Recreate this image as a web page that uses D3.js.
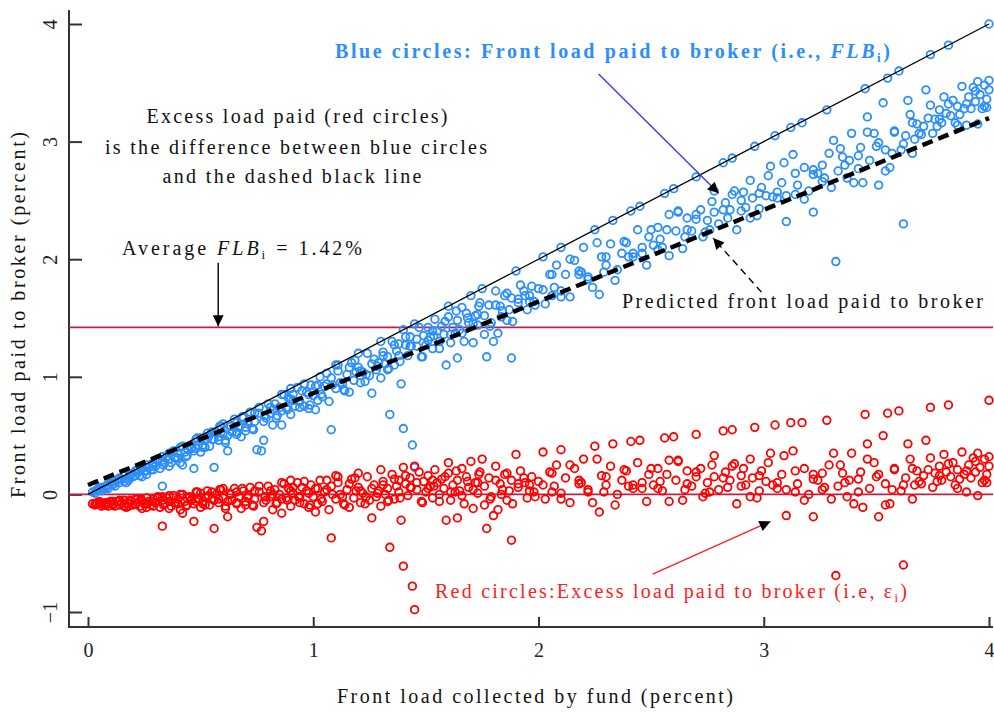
<!DOCTYPE html>
<html>
<head>
<meta charset="utf-8">
<script src="https://cdn.jsdelivr.net/npm/d3@7"></script>
<style>
  body { margin: 0; background: #fff; }
  svg { display: block; }
  text { font-family: "Liberation Serif", "Times New Roman", serif; }
</style>
</head>
<body>
<script>
const width = 994;
const height = 712;

// front load collected by fund (percent), one entry per fund
const fundX = [
  0.02,0.03,0.04,0.05,0.06,0.07,0.08,0.09,0.10,0.11,
  0.12,0.13,0.14,0.15,0.16,0.17,0.18,0.19,0.20,0.21,
  0.22,0.23,0.24,0.24,0.25,0.26,0.27,0.28,0.29,0.30,
  0.31,0.32,0.33,0.33,0.34,0.35,0.36,0.37,0.38,0.39,
  0.40,0.41,0.42,0.42,0.43,0.44,0.45,0.46,0.47,0.47,
  0.48,0.49,0.50,0.50,0.51,0.52,0.53,0.54,0.55,0.56,
  0.57,0.58,0.59,0.60,0.61,0.62,0.63,0.64,0.65,0.66,
  0.67,0.68,0.69,0.70,0.71,0.72,0.73,0.74,0.75,0.76,
  0.77,0.78,0.79,0.80,0.81,0.82,0.83,0.84,0.85,0.86,
  0.87,0.88,0.89,0.90,0.91,0.92,0.93,0.94,0.95,0.96,
  0.97,0.98,0.99,1.00,1.01,1.02,1.03,1.04,1.05,1.07,
  1.08,1.08,1.10,1.11,1.12,1.14,1.15,1.16,1.17,1.18,
  1.20,1.21,1.22,1.24,1.25,1.26,1.27,1.28,1.29,1.30,
  1.31,1.32,1.33,1.34,1.35,1.36,1.37,1.38,1.39,1.40,
  1.40,1.41,1.42,1.43,1.44,1.45,1.45,1.46,1.47,1.48,
  1.49,1.50,1.51,1.52,1.53,1.54,1.55,1.56,1.57,1.58,
  1.59,1.60,1.61,1.62,1.64,1.64,1.65,1.66,1.67,1.68,
  1.69,1.70,1.71,1.72,1.73,1.74,1.75,1.76,1.77,1.78,
  1.79,1.80,1.81,1.82,1.83,1.84,1.85,1.86,1.88,1.88,
  1.90,1.91,1.92,1.94,1.95,1.97,1.98,2.00,2.02,2.03,
  2.05,2.07,2.08,2.10,2.12,2.14,2.16,2.18,2.20,2.22,
  2.24,2.25,2.27,2.28,2.30,2.32,2.33,2.35,2.37,2.39,
  2.41,2.42,2.44,2.46,2.48,2.49,2.51,2.53,2.55,2.56,
  2.57,2.58,2.60,2.61,2.62,2.64,2.66,2.68,2.70,2.72,
  2.73,2.75,2.77,2.78,2.80,2.82,2.83,2.85,2.86,2.87,
  2.88,2.90,2.91,2.92,2.94,2.95,2.96,2.97,2.99,3.01,
  3.03,3.05,3.06,3.08,3.09,3.10,3.12,3.13,3.15,3.17,
  3.18,3.20,3.22,3.22,3.24,3.26,3.28,3.29,3.31,3.32,
  3.33,3.35,3.37,3.39,3.40,3.42,3.43,3.44,3.45,3.46,
  3.47,3.49,3.51,3.51,3.53,3.54,3.55,3.56,3.58,3.60,
  3.61,3.62,3.63,3.64,3.65,3.66,3.68,3.69,3.71,3.72,
  3.73,3.74,3.75,3.76,3.78,3.79,3.80,3.81,3.82,3.83,
  3.84,3.85,3.86,3.88,3.89,3.90,3.91,3.92,3.93,3.94,
  3.95,3.95,3.96,3.97,3.98,3.99,3.99,4.00,4.00,4.00,
  0.60,0.90,1.10,1.20,1.30,1.60,2.10,2.45,2.70,0.05,
  0.08,0.11,0.14,0.18,0.22,0.26,0.29,0.33,0.36,0.40,
  0.44,0.48,0.52,0.55,0.58,0.62,0.66,0.70,0.74,0.78,
  0.82,0.86,0.90,0.94,0.98,1.02,1.06,1.13,1.19,1.23,
  1.33,1.38,1.43,1.53,1.63,1.73,1.87,1.96,2.06,2.19,
  2.29,2.40,2.53,2.65,2.76,2.84,2.98,3.04,3.14,3.27,
  3.36,3.57,3.67,3.77,3.87
];

// blue circles: front load paid to broker (FLB_i)
const blueY = [
  0.02,0.01,0.04,0.04,0.06,0.05,0.07,0.05,0.10,0.09,
  0.07,0.12,0.10,0.13,0.16,0.10,0.14,0.17,0.15,0.20,
  0.18,0.16,0.22,0.15,0.20,0.25,0.23,0.21,0.27,0.24,
  0.30,0.22,0.07,0.29,0.27,0.32,0.30,0.27,0.37,0.31,
  0.35,0.27,0.41,0.25,0.36,0.33,0.41,0.39,0.22,0.37,
  0.47,0.42,0.36,0.48,0.42,0.47,0.52,0.41,0.47,0.23,
  0.53,0.46,0.58,0.52,0.46,0.37,0.58,0.53,0.64,0.51,
  0.58,0.49,0.65,0.57,0.62,0.70,0.56,0.62,0.38,0.69,
  0.37,0.46,0.65,0.77,0.69,0.59,0.77,0.67,0.74,0.59,
  0.85,0.74,0.82,0.68,0.80,0.75,0.91,0.79,0.88,0.75,
  0.87,0.73,0.93,0.84,0.72,0.93,1.00,0.83,0.92,0.79,
  0.55,0.99,0.90,1.05,0.95,0.88,1.02,0.87,1.12,0.97,
  1.08,0.95,1.04,1.20,1.01,0.86,1.15,1.06,1.12,0.99,
  1.21,1.11,1.17,0.68,1.30,1.10,1.22,1.18,0.94,0.56,
  1.40,1.27,1.18,1.34,0.42,0.23,1.45,1.26,1.42,1.17,
  1.35,1.27,1.42,1.34,1.24,1.49,1.39,1.30,1.43,1.36,
  1.10,1.51,1.29,1.42,1.16,1.48,1.40,1.59,1.30,1.54,
  1.46,1.69,1.29,1.52,1.44,1.63,1.75,1.52,1.17,1.61,
  1.46,1.30,1.73,1.37,1.60,1.56,1.69,1.48,1.16,1.67,
  1.90,1.63,1.78,1.69,1.57,1.77,1.64,1.75,2.02,1.62,
  1.87,1.76,1.95,1.73,1.87,1.68,1.99,1.87,2.10,1.85,
  1.76,2.25,1.70,2.02,1.95,2.13,2.33,1.91,2.05,2.14,
  2.41,2.02,2.25,2.10,1.95,2.19,2.12,2.27,2.10,2.56,
  2.25,2.38,2.60,2.24,2.41,2.09,2.35,2.24,2.34,2.42,
  2.19,2.33,2.49,2.40,2.30,2.82,2.48,2.42,2.86,2.58,
  2.25,2.50,2.57,2.44,2.67,2.52,2.96,2.37,2.61,2.54,
  2.79,3.05,2.52,2.65,2.82,2.32,3.12,2.89,2.63,3.16,
  2.78,2.58,2.40,2.76,2.73,2.66,3.27,2.90,3.01,1.98,
  2.75,2.87,2.69,3.07,2.65,2.88,2.95,2.65,3.45,3.21,
  2.84,3.07,2.63,2.99,3.33,2.93,3.54,2.78,3.09,3.60,
  2.93,2.30,3.05,3.35,3.23,2.90,3.15,3.07,3.13,3.44,
  3.20,3.74,3.07,3.19,3.27,3.16,3.38,3.24,3.82,3.22,
  3.35,3.16,3.30,3.47,3.28,3.14,3.38,3.28,3.46,3.34,
  3.51,3.15,3.40,3.28,3.48,3.36,3.29,4.00,3.52,3.44,
  0.60,0.90,1.10,1.20,1.30,1.60,2.10,2.45,2.70,0.06,
  0.05,0.11,0.14,0.12,0.21,0.20,0.21,0.32,0.24,0.31,
  0.39,0.39,0.40,0.53,0.49,0.50,0.61,0.54,0.69,0.62,
  0.72,0.71,0.81,0.74,0.85,0.80,0.94,0.94,1.04,0.96,
  1.06,1.28,1.26,1.39,1.37,1.53,1.57,1.69,1.69,1.89,
  1.89,2.02,2.08,2.19,2.25,2.35,2.43,2.53,2.55,2.69,
  2.80,2.90,3.02,3.13,3.23
];

// red circles: excess load paid to broker (epsilon_i)
const redY = [
  -0.08,-0.09,-0.07,-0.08,-0.07,-0.09,-0.07,-0.10,-0.06,-0.08,
  -0.10,-0.06,-0.09,-0.07,-0.05,-0.11,-0.08,-0.06,-0.09,-0.04,
  -0.07,-0.10,-0.05,-0.12,-0.08,-0.03,-0.06,-0.09,-0.04,-0.07,
  -0.02,-0.11,-0.27,-0.05,-0.08,-0.03,-0.06,-0.10,-0.01,-0.07,
  -0.04,-0.13,0.00,-0.16,-0.06,-0.09,-0.02,-0.05,-0.23,-0.08,
  0.02,-0.04,-0.11,0.01,-0.06,-0.02,0.03,-0.09,-0.04,-0.29,
  0.00,-0.07,0.04,-0.03,-0.10,-0.19,0.01,-0.05,0.05,-0.08,
  -0.02,-0.12,0.03,-0.06,-0.01,0.06,-0.09,-0.04,-0.28,0.02,
  -0.31,-0.23,-0.05,0.07,-0.02,-0.13,0.04,-0.07,0.00,-0.16,
  0.09,-0.03,0.05,-0.10,0.01,-0.05,0.10,-0.02,0.06,-0.08,
  0.03,-0.11,0.08,-0.02,-0.15,0.05,0.12,-0.06,0.02,-0.13,
  -0.37,0.07,-0.04,0.10,0.00,-0.09,0.04,-0.11,0.13,-0.03,
  0.06,-0.07,0.01,0.15,-0.05,-0.20,0.08,-0.02,0.03,-0.10,
  0.11,0.00,0.05,-0.45,0.17,-0.04,0.07,0.02,-0.22,-0.61,
  0.23,0.09,-0.01,0.14,-0.78,-0.98,0.24,0.04,0.19,-0.06,
  0.11,0.02,0.16,0.07,-0.03,0.21,0.10,0.00,0.13,0.05,
  -0.22,0.18,-0.05,0.08,-0.20,0.12,0.03,0.22,-0.08,0.15,
  0.06,0.28,-0.12,0.10,0.01,0.19,0.30,0.07,-0.29,0.14,
  -0.02,-0.18,0.24,-0.13,0.09,0.04,0.17,-0.05,-0.39,0.12,
  0.34,0.06,0.20,0.10,-0.03,0.15,0.02,0.11,0.36,-0.04,
  0.19,0.07,0.25,0.01,0.14,-0.07,0.22,0.09,0.30,0.04,
  -0.07,0.41,-0.15,0.16,0.08,0.24,0.43,0.00,0.12,0.20,
  0.45,0.05,0.27,0.10,-0.06,0.17,0.08,0.22,0.03,0.48,
  0.17,0.29,0.49,0.12,0.29,-0.05,0.20,0.07,0.15,0.22,
  -0.02,0.10,0.25,0.15,0.04,0.54,0.19,0.12,0.55,0.26,
  -0.08,0.16,0.22,0.08,0.30,0.14,0.57,-0.03,0.20,0.11,
  0.35,0.59,0.05,0.17,0.33,-0.18,0.61,0.37,0.09,0.61,
  0.22,0.00,-0.19,0.17,0.12,0.04,0.63,0.25,0.35,-0.69,
  0.07,0.18,-0.02,0.35,-0.08,0.13,0.19,-0.11,0.68,0.43,
  0.05,0.27,-0.19,0.17,0.50,0.09,0.69,-0.08,0.22,0.71,
  0.03,-0.60,0.14,0.43,0.30,-0.04,0.20,0.11,0.16,0.46,
  0.21,0.74,0.06,0.18,0.24,0.12,0.34,0.19,0.76,0.15,
  0.27,0.08,0.21,0.36,0.17,0.02,0.25,0.14,0.31,0.19,
  0.35,-0.01,0.23,0.10,0.30,0.17,0.10,0.80,0.32,0.24,
  0.05,0.12,0.16,0.18,0.21,0.27,0.38,0.46,0.51,-0.06,
  -0.09,-0.06,-0.05,-0.10,-0.04,-0.08,-0.10,-0.02,-0.12,-0.08,
  -0.03,-0.06,-0.09,0.02,-0.04,-0.06,0.02,-0.09,0.03,-0.07,
  0.00,-0.04,0.03,-0.07,0.01,-0.08,0.04,-0.02,0.03,-0.08,
  -0.06,0.12,0.06,0.12,0.02,0.10,0.03,0.08,0.02,0.10,
  0.02,0.07,0.05,0.04,0.02,0.06,0.03,0.08,0.02,0.06,
  0.10,0.04,0.08,0.11,0.13
];

// second batch of funds read from the dense part of the cloud
const fundX2 = [
  0.035,0.06,0.085,0.11,0.135,0.16,0.185,0.21,0.235,0.26,
  0.285,0.31,0.335,0.36,0.385,0.41,0.435,0.46,0.485,0.51,
  0.535,0.56,0.585,0.61,0.635,0.66,0.685,0.71,0.735,0.76,
  0.785,0.81,0.835,0.86,0.885,0.91,0.935,0.96,0.985,1.01,
  1.035,1.06,1.085,1.11,1.135,1.16,1.185,1.21,1.235,1.26,
  1.285,1.31,1.335,1.36,1.385,1.41,1.435,1.46,1.485,1.51,
  1.535,1.56,1.585,1.61,1.635,1.66,1.685,1.71,1.735,1.76,
  1.785,1.81,1.835,1.86,1.885,1.91,1.935,1.96,1.985,2.02,
  2.06,2.10,2.14,2.18,2.22,2.26,2.30,2.34,2.38,2.42,
  2.46,2.50,2.54,2.58,2.62,2.66,2.70,2.74,2.78,2.82,
  2.86,2.90,2.94,2.98,3.02,3.06,3.10,3.14,3.18,3.22,
  3.26,3.30,3.34,3.38,3.42,3.46,3.50,3.54,3.58,3.62,
  3.66,3.70,3.74,3.78,3.82,3.86,3.90,3.94,3.98
];
const blueY2 = [
  0.03,0.03,0.08,0.08,0.13,0.11,0.17,0.16,0.22,0.17,
  0.24,0.29,0.25,0.35,0.31,0.40,0.32,0.40,0.48,0.40,
  0.49,0.47,0.58,0.44,0.58,0.53,0.66,0.60,0.55,0.74,
  0.67,0.74,0.65,0.85,0.72,0.85,0.79,0.94,0.76,0.92,
  0.85,1.03,0.93,1.10,0.89,1.08,1.14,1.05,1.02,1.11,
  1.09,1.18,1.07,1.27,1.13,1.34,1.26,1.32,1.17,1.31,
  1.35,1.24,1.47,1.36,1.56,1.37,1.50,1.45,1.60,1.36,
  1.43,1.61,1.51,1.71,1.47,1.66,1.73,1.64,1.61,1.74,
  1.87,1.68,2.00,1.90,1.83,2.14,2.02,1.82,2.15,2.05,
  2.05,2.25,2.17,2.03,2.40,2.25,2.38,2.23,2.58,2.42,
  2.55,2.41,2.35,2.56,2.71,2.57,2.54,2.73,2.51,2.72,
  2.80,2.61,2.94,2.84,2.77,3.08,2.96,2.75,3.08,2.98,
  3.16,3.06,3.31,3.19,3.32,3.14,3.32,3.43,3.30
];
const redY2 = [
  -0.08,-0.10,-0.07,-0.09,-0.06,-0.10,-0.05,-0.08,-0.04,-0.11,
  -0.06,-0.03,-0.09,-0.01,-0.07,0.00,-0.10,-0.04,0.02,-0.08,
  -0.01,-0.05,0.04,-0.12,0.00,-0.07,0.05,-0.03,-0.10,0.07,
  -0.02,0.03,-0.08,0.10,-0.05,0.06,-0.02,0.11,-0.09,0.05,
  -0.04,0.12,0.00,0.15,-0.08,0.09,0.14,0.03,-0.02,0.05,
  0.01,0.08,-0.05,0.13,-0.03,0.16,0.06,0.10,-0.07,0.05,
  0.07,-0.06,0.15,0.02,0.20,-0.01,0.11,0.04,0.17,-0.09,
  -0.04,0.12,0.00,0.18,-0.08,0.09,0.14,0.03,-0.02,0.08,
  0.18,-0.04,0.25,0.12,0.02,0.30,0.15,-0.09,0.21,0.08,
  0.05,0.22,0.11,-0.06,0.28,0.09,0.19,0.01,0.33,0.14,
  0.24,0.07,-0.02,0.16,0.27,0.10,0.04,0.20,-0.05,0.13,
  0.18,-0.04,0.25,0.12,0.02,0.30,0.15,-0.09,0.21,0.08,
  0.22,0.09,0.31,0.16,0.26,0.05,0.20,0.28,0.12
];

// 45 degree line (broker gets the whole load) and predicted front load
const fullX = [0, 4];
const fullY = [0, 4];
const predX = [0, 1, 2, 3, 4];
const predY = [0.08, 0.86, 1.64, 2.42, 3.2];
const avgFLB = 1.42;

const xTicks = [0, 1, 2, 3, 4];
const yTicks = [-1, 0, 1, 2, 3, 4];

const blue = '#2b8efc';
const red = '#ff0000';
const crimson = '#c21f45';

const x = d3.scaleLinear().domain([0, 4]).range([88, 989]);
const y = d3.scaleLinear().domain([-1, 4]).range([612, 24]);

const svg = d3.select('body').append('svg').attr('width', width).attr('height', height);
svg.append('rect').attr('width', width).attr('height', height).attr('fill', '#fff');

const defs = svg.append('defs');
defs.append('marker')
  .attr('id', 'head')
  .attr('viewBox', '0 0 10 10')
  .attr('refX', 10).attr('refY', 5)
  .attr('markerWidth', 12).attr('markerHeight', 11)
  .attr('markerUnits', 'userSpaceOnUse')
  .attr('orient', 'auto')
  .append('path').attr('d', 'M0,0L10,5L0,10z').attr('fill', '#000');

// axes
const yAxis = d3.axisLeft(y).tickValues(yTicks).tickSize(-13).tickFormat(d3.format('d'));
const gy = svg.append('g').attr('transform', 'translate(69,0)').call(yAxis);
gy.select('.domain').remove();
gy.selectAll('.tick line').attr('stroke', '#333').attr('stroke-width', 2);
gy.selectAll('.tick text')
  .attr('x', null).attr('dy', '0.35em')
  .attr('transform', 'translate(-19,0) rotate(-90)')
  .attr('text-anchor', 'middle')
  .attr('font-size', 20).attr('font-family', '"Liberation Serif", serif').attr('fill', '#222');

const xAxis = d3.axisBottom(x).tickValues(xTicks).tickSize(-10).tickPadding(16).tickFormat(d3.format('d'));
const gx = svg.append('g').attr('transform', 'translate(0,627)').call(xAxis);
gx.select('.domain').remove();
gx.selectAll('.tick line').attr('stroke', '#333').attr('stroke-width', 2);
gx.selectAll('.tick text')
  .attr('font-size', 20).attr('font-family', '"Liberation Serif", serif').attr('fill', '#222');

svg.append('path').attr('d', 'M69,10V627H993').attr('fill', 'none').attr('stroke', '#333').attr('stroke-width', 2);

// horizontal reference lines
[avgFLB, 0].forEach(v => {
  svg.append('line')
    .attr('x1', 69).attr('x2', 993)
    .attr('y1', y(v)).attr('y2', y(v))
    .attr('stroke', crimson).attr('stroke-width', 1.6);
});

const funds = fundX.map((fx, i) => ({ x: fx, b: blueY[i], r: redY[i] }))
  .concat(fundX2.map((fx, i) => ({ x: fx, b: blueY2[i], r: redY2[i] })));

svg.append('g').selectAll('circle').data(funds).enter().append('circle')
  .attr('cx', d => x(d.x)).attr('cy', d => y(d.b)).attr('r', 3.8)
  .attr('fill', 'none').attr('stroke', blue).attr('stroke-width', 1.8);

svg.append('g').selectAll('circle').data(funds).enter().append('circle')
  .attr('cx', d => x(d.x)).attr('cy', d => y(d.r)).attr('r', 3.8)
  .attr('fill', 'none').attr('stroke', red).attr('stroke-width', 1.8);

const line = d3.line().x(d => x(d[0])).y(d => y(d[1]));

svg.append('path')
  .attr('d', line(fullX.map((v, i) => [v, fullY[i]])))
  .attr('fill', 'none').attr('stroke', '#000').attr('stroke-width', 1.3);

svg.append('path')
  .attr('d', line(predX.map((v, i) => [v, predY[i]])))
  .attr('fill', 'none').attr('stroke', '#000').attr('stroke-width', 4.5)
  .attr('stroke-dasharray', '11,6');

// annotation arrows (data coordinates)
const arrows = [
  { from: [0.578, 1.97], to: [0.578, 1.43], color: '#000', dash: null },
  { from: [2.267, 3.575], to: [2.80, 2.56], color: '#3b3be6', dash: null },
  { from: [2.99, 1.72], to: [2.775, 2.18], color: '#000', dash: '7,5' },
  { from: [2.507, -0.677], to: [3.03, -0.23], color: '#ff2020', dash: null }
];
arrows.forEach(a => {
  svg.append('line')
    .attr('x1', x(a.from[0])).attr('y1', y(a.from[1]))
    .attr('x2', x(a.to[0])).attr('y2', y(a.to[1]))
    .attr('stroke', a.color).attr('stroke-width', 1.4)
    .attr('stroke-dasharray', a.dash)
    .attr('marker-end', 'url(#head)');
});

// texts
function label(px, py, len, color, parts, opts = {}) {
  const t = svg.append('text')
    .attr('x', px).attr('y', py)
    .attr('text-anchor', opts.anchor || 'start')
    .attr('font-size', opts.size || 20)
    .attr('font-weight', opts.weight || 'normal')
    .attr('fill', color)
    .attr('textLength', len).attr('lengthAdjust', 'spacing');
  if (opts.transform) t.attr('transform', opts.transform);
  parts.forEach(p => {
    const s = t.append('tspan').text(p.t);
    if (p.italic) s.attr('font-style', 'italic');
    if (p.sub) s.attr('font-size', 13).attr('dy', 4);
    if (p.unsub) s.attr('dy', -4);
  });
  return t;
}

label(335, 58, 555, blue, [
  { t: 'Blue circles: Front load paid to broker (i.e., ' },
  { t: 'FLB', italic: true },
  { t: 'i', sub: true },
  { t: ')', unsub: true }
], { weight: 'bold' });

label(297, 123, 301, '#111', [{ t: 'Excess load paid (red circles)' }], { anchor: 'middle' });
label(296, 154, 382, '#111', [{ t: 'is the difference between blue circles' }], { anchor: 'middle' });
label(292, 183, 259, '#111', [{ t: 'and the dashed black line' }], { anchor: 'middle' });

label(122, 255, 240, '#111', [
  { t: 'Average ' },
  { t: 'FLB', italic: true },
  { t: 'i', sub: true },
  { t: ' = 1.42%', unsub: true }
]);

label(622, 308, 361, '#111', [{ t: 'Predicted front load paid to broker' }]);

label(435, 598, 472, '#ff2020', [
  { t: 'Red circles:Excess load paid to broker (i.e, ε' },
  { t: 'i', sub: true },
  { t: ')', unsub: true }
]);

label(535, 703, 396, '#111', [{ t: 'Front load collected by fund (percent)' }], { anchor: 'middle' });
label(0, 0, 366, '#111', [{ t: 'Front load paid to broker (percent)' }],
  { anchor: 'middle', transform: 'translate(25,315) rotate(-90)' });
</script>
</body>
</html>
